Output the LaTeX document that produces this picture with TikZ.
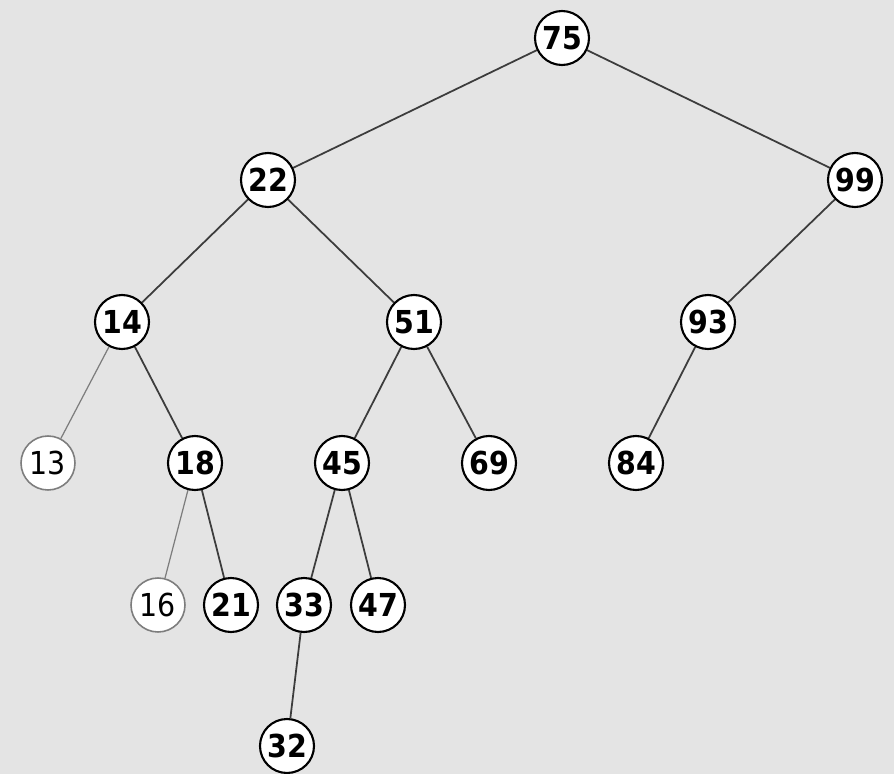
\documentclass[tikz,border=0pt]{standalone}
\usepackage{fontspec}
\setmainfont{DejaVu Sans Condensed}
\usepackage{tikz}
\usetikzlibrary{positioning, backgrounds}
\definecolor{paper}{RGB}{228, 228, 228}
\definecolor{edgegray}{RGB}{60, 60, 60}
\definecolor{fadegray}{RGB}{125, 125, 125}
\tikzset{
	key/.style={circle, draw=black, line width=1.2pt, fill=white, minimum size=1.08cm,
		inner sep=0pt, font=\fontsize{18}{21}\selectfont\bfseries},
	fadekey/.style={key, draw=fadegray, line width=0.9pt, font=\fontsize{18}{21}\selectfont},
	link/.style={draw=edgegray, line width=1pt},
	fadelink/.style={draw=fadegray, line width=0.7pt}
}

\begin{document}
\begin{tikzpicture}[x=0.02cm, y=-0.02cm]

\useasboundingbox (0,0) rectangle (894,774);

% --- level 0 and 1 ---
\node[key] (n75) at (562,38) {75};
\node[key] (n22) at (268,180) {22};
\node[key] (n99) at (855,180) {99};

% --- level 2 ---
\node[key] (n14) at (122,322) {14};
\node[key] (n51) at (414,322) {51};
\node[key] (n93) at (708,322) {93};

% --- level 3 ---
\node[fadekey] (n13) at (48,463) {13};
\node[key] (n18) at (195,463) {18};
\node[key] (n45) at (342,463) {45};
\node[key] (n69) at (489,463) {69};
\node[key] (n84) at (636,463) {84};

% --- level 4 and 5 ---
\node[fadekey] (n16) at (158,605) {16};
\node[key] (n21) at (231,605) {21};
\node[key] (n33) at (304,605) {33};
\node[key] (n47) at (378,605) {47};
\node[key] (n32) at (287,746) {32};

% --- paper and edges, behind the keys ---
\begin{scope}[on background layer]
    \fill[paper] (0,0) rectangle (894,774);
    \path[link] (n75) -- (n22);
    \path[link] (n75) -- (n99);
    \path[link] (n22) -- (n14);
    \path[link] (n22) -- (n51);
    \path[link] (n99) -- (n93);
    \path[fadelink] (n14) -- (n13);
    \path[link] (n14) -- (n18);
    \path[link] (n51) -- (n45);
    \path[link] (n51) -- (n69);
    \path[link] (n93) -- (n84);
    \path[fadelink] (n18) -- (n16);
    \path[link] (n18) -- (n21);
    \path[link] (n45) -- (n33);
    \path[link] (n45) -- (n47);
    \path[link] (n33) -- (n32);
\end{scope}

\end{tikzpicture}
\end{document}
